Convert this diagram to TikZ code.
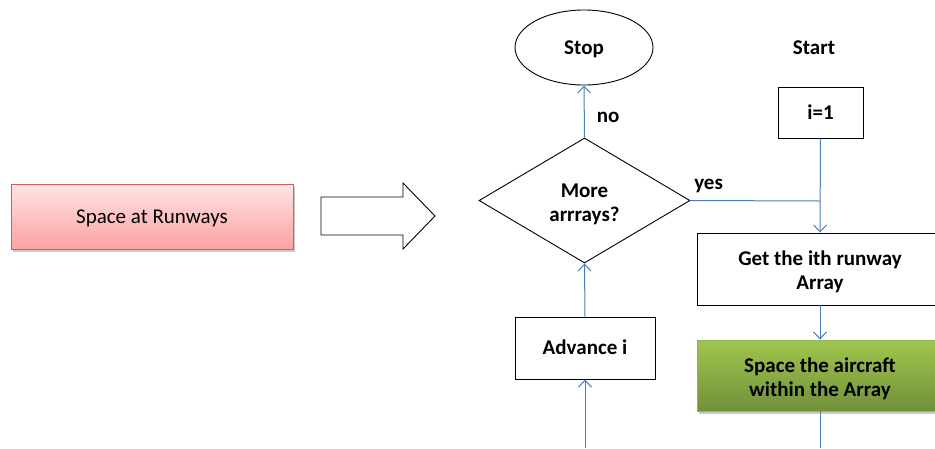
\documentclass[tikz,border=0pt]{standalone}
\usepackage{fontspec}
\setmainfont{Carlito}
\usetikzlibrary{arrows.meta,shapes.geometric,shadows}
\definecolor{flowblue}{HTML}{4A7EBB}
\definecolor{redtop}{HTML}{FFE3E3}
\definecolor{redbot}{HTML}{FCA2A2}
\definecolor{redline}{HTML}{C9605E}
\definecolor{greentop}{HTML}{A0C64E}
\definecolor{greenbot}{HTML}{71903A}
\definecolor{greenline}{HTML}{93B55A}
% two centred lines, 24pt apart, referenced at the last baseline
\newcommand\twolines[2]{\vbox{\baselineskip=24pt\halign{\hfil##\hfil\cr #1\cr #2\cr}}}
\tikzset{
  base/.style={font=\fontsize{21}{24}\selectfont\bfseries, inner sep=0pt,
    text height=13.5pt, text depth=0pt},
  tall/.style={text height=41pt, text depth=0pt},
  procbox/.style={base, draw=black, line width=0.9pt, fill=white},
  flow/.style={draw=flowblue, line width=1pt, -{Straight Barb[length=7pt,width=13pt,line width=1pt]}},
  plainflow/.style={draw=flowblue, line width=1pt},
  softshadow/.style={drop shadow={shadow xshift=1.5pt, shadow yshift=-2.5pt, opacity=0.35, fill=black!60}}
}
\begin{document}
\begin{tikzpicture}[x=1pt,y=-1pt]
\useasboundingbox (0,0) rectangle (935,448);

% title block
\node[base, font=\fontsize{21}{24}\selectfont, draw=redline, line width=0.8pt,
      top color=redtop, bottom color=redbot, softshadow,
      minimum width=282pt, minimum height=65pt] (title) at (152,216.5) {Space at Runways};

% hollow block arrow
\draw[line width=0.9pt, fill=white] (321,197) -- (403,197) -- (403,183) -- (435,216)
  -- (403,249) -- (403,235) -- (321,235) -- cycle;

% flowchart nodes
\node[procbox, ellipse, minimum width=138pt, minimum height=75pt] (stop) at (584,47.5) {Stop};
\node[base] (start) at (814,48) {Start};
\node[procbox, minimum width=85pt, minimum height=51pt] (init) at (820.5,112.5) {i=1};
\node[procbox, tall, diamond, minimum width=211pt, minimum height=125pt] (more) at (584.5,200.5)
  {\twolines{More}{arrrays?}};
\node[procbox, tall, minimum width=246pt, minimum height=72pt] (get) at (820,269)
  {\twolines{Get the ith runway}{Array}};
\node[base, tall, draw=greenline, line width=0.8pt, top color=greentop, bottom color=greenbot,
      softshadow, minimum width=246pt, minimum height=71pt] (space) at (820,375.5)
      {\twolines{Space the aircraft}{within the Array}};
\node[procbox, minimum width=140pt, minimum height=62pt] (adv) at (585,348) {Advance i};

\coordinate (join) at (820,201);
\coordinate (loopin) at (585,448);
\coordinate (spaceout) at (820,448);

% connectors
\draw[flow] (more.north) -- node[base, anchor=base west, pos=0.283, xshift=12pt] {no} (stop.south);
\draw[plainflow] (more.east) -- node[base, anchor=base, pos=0.14, yshift=11pt] {yes} (join);
\draw[flow] (init.south) -- (get.north);
\draw[flow] (get.south) -- (space.north);
\draw[plainflow] (space.south) -- (spaceout);
\draw[flow] (adv.north) -- (more.south);
\draw[flow] (loopin) -- (adv.south);
\end{tikzpicture}
\end{document}
